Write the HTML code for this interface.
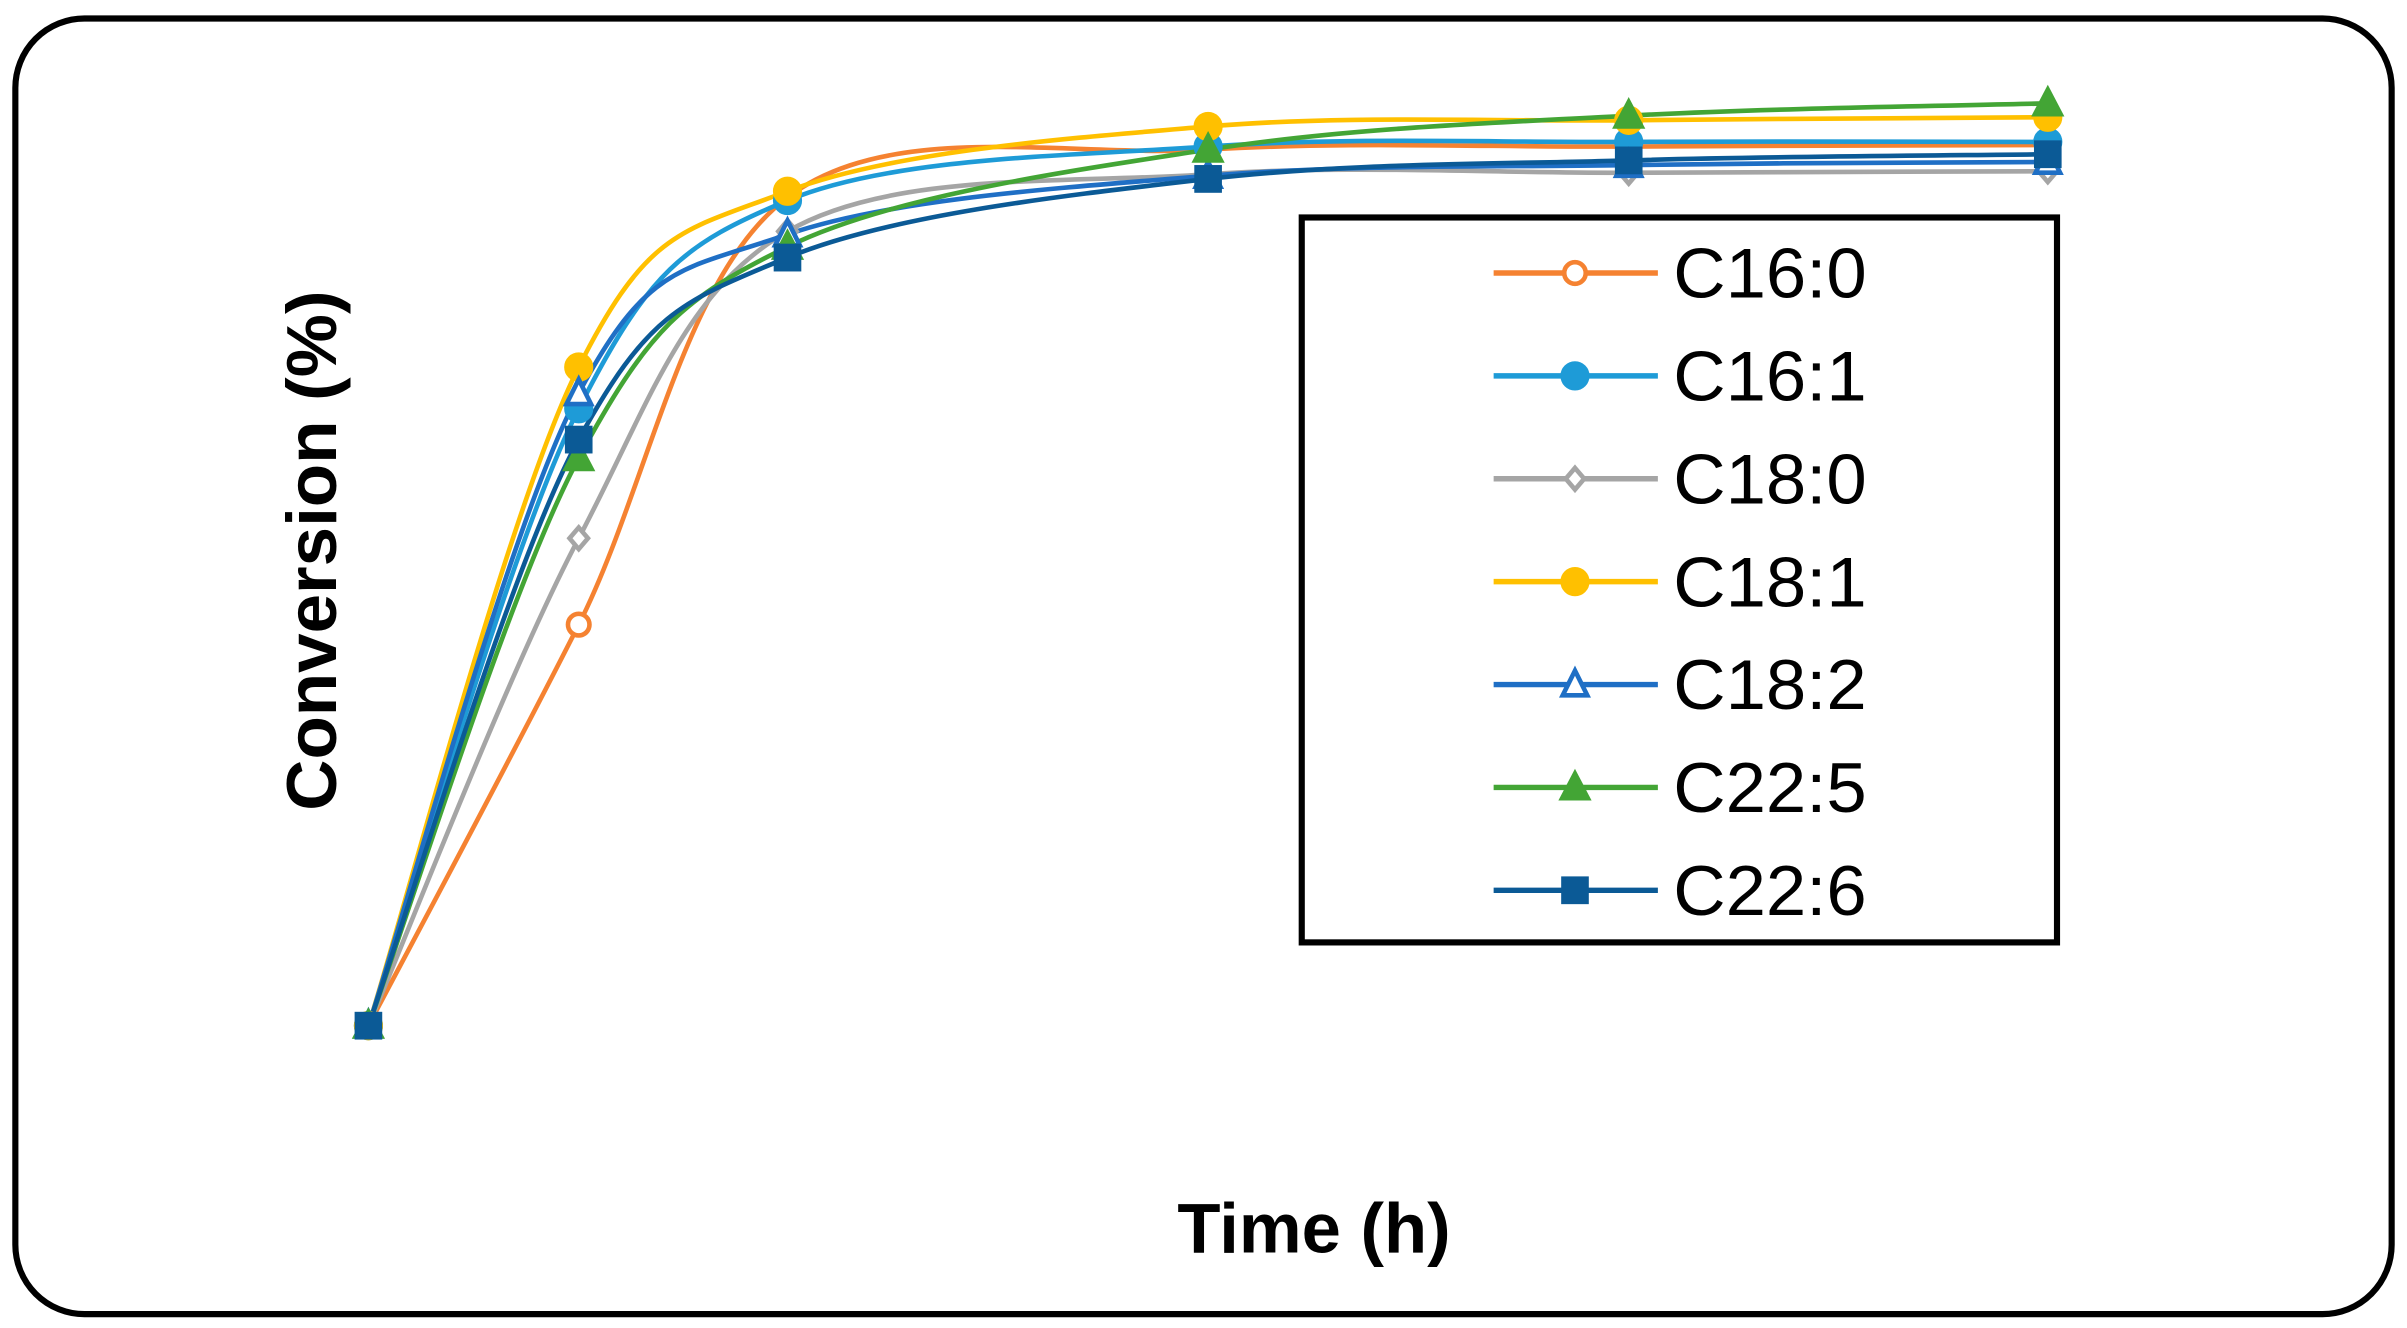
<!DOCTYPE html>
<html><head><meta charset="utf-8"><style>
html,body{margin:0;padding:0;background:#fff;}
svg{display:block;}
</style></head><body>
<svg width="2407" height="1328" viewBox="0 0 1568 861" preserveAspectRatio="none" xmlns="http://www.w3.org/2000/svg">
<rect x="0" y="0" width="1568" height="861" fill="#fff"/>
<rect x="10" y="12" width="1548" height="840" rx="45" ry="45" fill="none" stroke="#000" stroke-width="4"/>
<g id="series" fill="none" stroke-width="3"></g>
<rect x="848" y="141" width="492" height="470" fill="#fff" stroke="#000" stroke-width="4"/>
<g id="legend"></g>
<text x="0" y="0" transform="translate(219,357) rotate(-90)" text-anchor="middle" font-family="Liberation Sans, sans-serif" font-weight="bold" font-size="46">Conversion (%)</text>
<text x="856" y="812" text-anchor="middle" font-family="Liberation Sans, sans-serif" font-weight="bold" font-size="46">Time (h)</text>
</svg>
<script>
const X=[240,377,513,787,1061,1334];
const S=[
 ["C16:0","#f58231",[665,405,128,97,95,94],"circleOpen"],
 ["C16:1","#1e9bd7",[665,265,130,95,92,92],"circle"],
 ["C18:0","#a5a5a5",[665,349,150,113,112,111],"diamondOpen"],
 ["C18:1","#ffc000",[665,238,124,82,78,76],"circle"],
 ["C18:2","#1f6fc5",[665,255,152,114,107,105],"triOpen"],
 ["C22:5","#43a535",[665,297,160,97,75,67],"tri"],
 ["C22:6","#0b5a96",[665,285,167,116,104,100],"square"]];
const NS="http://www.w3.org/2000/svg";
function el(t,a,p){const e=document.createElementNS(NS,t);for(const k in a)e.setAttribute(k,a[k]);p.appendChild(e);return e;}
function marker(type,c,x,y,p){
 const w=3;
 if(type=="circleOpen")el("circle",{cx:x,cy:y,r:7,fill:"#fff",stroke:c,"stroke-width":w},p);
 else if(type=="circle")el("circle",{cx:x,cy:y,r:9,fill:c,stroke:c,"stroke-width":1},p);
 else if(type=="diamondOpen")el("polygon",{points:`${x},${y-7} ${x+6},${y} ${x},${y+7} ${x-6},${y}`,fill:"#fff",stroke:c,"stroke-width":w},p);
 else if(type=="triOpen")el("polygon",{points:`${x},${y-9} ${x+8},${y+7} ${x-8},${y+7}`,fill:"#fff",stroke:c,"stroke-width":w},p);
 else if(type=="tri")el("polygon",{points:`${x},${y-11} ${x+10},${y+8} ${x-10},${y+8}`,fill:c,stroke:c,"stroke-width":1},p);
 else if(type=="square")el("rect",{x:x-9,y:y-9,width:18,height:18,fill:c},p);
}
const g=document.getElementById("series");
S.forEach(s=>{
 const Y=s[2];const P=X.map((x,i)=>[x,Y[i]]);
 let d=`M${P[0][0]},${P[0][1]}`;
 for(let i=0;i<P.length-1;i++){
  const p0=P[Math.max(i-1,0)],p1=P[i],p2=P[i+1],p3=P[Math.min(i+2,P.length-1)];
  const t=0.5/3*2;
  const c1=[p1[0]+(p2[0]-p0[0])*t/2,p1[1]+(p2[1]-p0[1])*t/2];
  const c2=[p2[0]-(p3[0]-p1[0])*t/2,p2[1]-(p3[1]-p1[1])*t/2];
  d+=` C${c1[0]},${c1[1]} ${c2[0]},${c2[1]} ${p2[0]},${p2[1]}`;
 }
 el("path",{d:d,stroke:s[1],"stroke-width":3,fill:"none"},g);
});
S.forEach(s=>{X.forEach((x,i)=>marker(s[3],s[1],x,s[2][i],g));});
const L=document.getElementById("legend");
S.forEach((s,i)=>{
 const y=177+i*66.7;
 el("line",{x1:973,y1:y,x2:1080,y2:y,stroke:s[1],"stroke-width":3.5},L);
 marker(s[3],s[1],1026,y,L);
 const t=el("text",{x:1090,y:y+16,"font-family":"Liberation Sans, sans-serif","font-size":46,textLength:126,lengthAdjust:"spacingAndGlyphs"},L);
 t.textContent=s[0];
});
</script>
</body></html>
